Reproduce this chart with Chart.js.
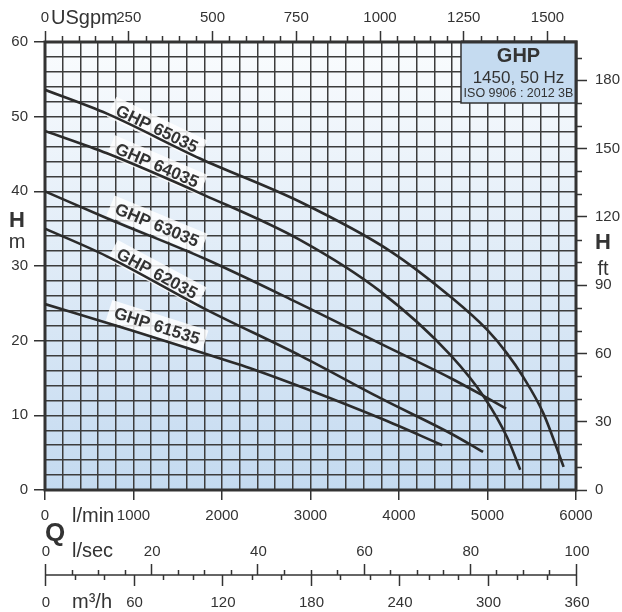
<!DOCTYPE html>
<html><head><meta charset="utf-8">
<script src="https://cdn.jsdelivr.net/npm/chart.js@4/dist/chart.umd.min.js"></script>
<style>html,body{margin:0;padding:0;background:#fff;}canvas{display:block;}</style>
</head><body><canvas id="c" width="622" height="612"></canvas>
<script>
// ---- data (flow in l/min, head in m) ----
const models = ['GHP 65035', 'GHP 64035', 'GHP 63035', 'GHP 62035', 'GHP 61535'];
const q65035 = [0, 700, 1750, 2880, 3900, 4600, 5000, 5220, 5400, 5630, 5860];
const h65035 = [53.6, 50.4, 44.4, 38.6, 32.0, 25.7, 21.4, 18.3, 15.2, 10.3, 3.1];
const q64035 = [0, 700, 1800, 2880, 3800, 4580, 4970, 5220, 5370];
const h64035 = [48.1, 45.1, 39.5, 33.5, 26.5, 18.1, 12.3, 7.1, 2.7];
const q63035 = [0, 700, 1800, 2800, 3790, 4580, 4970, 5210];
const h63035 = [40.0, 36.4, 31.0, 25.4, 19.6, 15.0, 12.5, 10.9];
const q62035 = [0, 700, 1800, 2900, 3790, 4580, 4950];
const h62035 = [35.0, 31.3, 24.3, 17.9, 12.3, 7.6, 5.1];
const q61535 = [0, 1000, 1980, 2320, 3790, 4490];
const h61535 = [24.9, 21.3, 17.6, 16.3, 9.6, 6.0];
// curve label anchors (data units)
const labelFlow = [1266, 1266, 1266, 1266, 1266];
const labelHead = [48.4, 43.5, 35.5, 29.0, 22.0];
// tick labels
const lminLabels = [0, 1000, 2000, 3000, 4000, 5000, 6000];
const usgpmLabels = [0, 250, 500, 750, 1000, 1250, 1500];
const mLabels = [0, 10, 20, 30, 40, 50, 60];
const ftLabels = [0, 30, 60, 90, 120, 150, 180];
const lsecLabels = [0, 20, 40, 60, 80, 100];
const m3hLabels = [0, 60, 120, 180, 240, 300, 360];
const boxTitle = 'GHP';
const boxLine1 = '1450, 50 Hz';
const boxLine2 = 'ISO 9906 : 2012 3B';

const seriesQ = [q65035, q64035, q63035, q62035, q61535];
const seriesH = [h65035, h64035, h63035, h62035, h61535];

const INK = '#333333';
const FONT = "'Liberation Sans', Arial, sans-serif";
const LMIN_PER_USGPM = 3.785411784;
const M_PER_FT = 0.3048;

function isOn(v, list) { return list.some(t => Math.abs(t - v) < 1e-6); }
function interp(qa, ha, q) {
  for (let i = 0; i < qa.length - 1; i++) {
    if (q >= qa[i] && q <= qa[i + 1]) {
      const t = (q - qa[i]) / (qa[i + 1] - qa[i]);
      return ha[i] + t * (ha[i + 1] - ha[i]);
    }
  }
  return ha[ha.length - 1];
}

const datasets = models.map((m, i) => ({
  label: m,
  data: seriesQ[i].map((q, j) => ({ x: q, y: seriesH[i][j] })),
  borderColor: '#2b2b2b',
  borderWidth: 2.6,
  pointRadius: 0,
  fill: false,
  cubicInterpolationMode: 'monotone',
  xAxisID: 'x',
  yAxisID: 'y'
}));

const decor = {
  id: 'decor',
  beforeDraw(chart) {
    const { ctx, chartArea: a } = chart;
    ctx.save();
    ctx.fillStyle = '#ffffff';
    ctx.fillRect(0, 0, chart.width, chart.height);
    const g = ctx.createLinearGradient(0, a.top, 0, a.bottom);
    g.addColorStop(0, '#fafcfe');
    g.addColorStop(1, '#c4daf0');
    ctx.fillStyle = g;
    ctx.fillRect(a.left, a.top, a.right - a.left, a.bottom - a.top);
    ctx.restore();
  },
  beforeDatasetsDraw(chart) {
    const { ctx, chartArea: a, scales } = chart;
    const sx = scales.x, sy = scales.y;
    ctx.save();
    // curve labels
    ctx.font = 'bold 17px ' + FONT;
    models.forEach((m, i) => {
      const q0 = labelFlow[i] - 300, q1 = labelFlow[i] + 300;
      const x0 = sx.getPixelForValue(q0), y0 = sy.getPixelForValue(interp(seriesQ[i], seriesH[i], q0));
      const x1 = sx.getPixelForValue(q1), y1 = sy.getPixelForValue(interp(seriesQ[i], seriesH[i], q1));
      const ang = Math.atan2(y1 - y0, x1 - x0);
      const px = sx.getPixelForValue(labelFlow[i]);
      const py = sy.getPixelForValue(labelHead[i]);
      ctx.save();
      ctx.translate(px, py);
      ctx.rotate(ang);
      const w = ctx.measureText(m).width;
      ctx.fillStyle = 'rgba(255,255,255,0.82)';
      ctx.fillRect(-w / 2 - 6, -11, w + 12, 22);
      ctx.fillStyle = INK;
      ctx.textAlign = 'center';
      ctx.textBaseline = 'middle';
      ctx.fillText(m, 0, 1);
      ctx.restore();
    });
    // frame
    ctx.strokeStyle = INK;
    ctx.lineWidth = 3;
    ctx.strokeRect(a.left, a.top, a.right - a.left, a.bottom - a.top);
    ctx.restore();
  },
  afterDraw(chart) {
    const { ctx, chartArea: a, scales } = chart;
    ctx.save();
    ctx.strokeStyle = INK;
    ctx.fillStyle = INK;
    ctx.lineWidth = 1.5;
    // minor ticks on top (USgpm) axis
    const sTop = scales.x2;
    for (let v = 0; v <= sTop.max; v += 50) {
      if (isOn(v, usgpmLabels)) continue;
      const px = Math.round(sTop.getPixelForValue(v)) + 0.5;
      ctx.beginPath(); ctx.moveTo(px, a.top); ctx.lineTo(px, a.top - 6); ctx.stroke();
    }
    // minor ticks on right (ft) axis
    const sR = scales.y2;
    for (let v = 0; v <= sR.max; v += 10) {
      if (isOn(v, ftLabels)) continue;
      const py = Math.round(sR.getPixelForValue(v)) + 0.5;
      ctx.beginPath(); ctx.moveTo(a.right, py); ctx.lineTo(a.right + 6, py); ctx.stroke();
    }
    // l/sec and m3/h axis
    const sL = scales.x3, sM = scales.x4;
    const axY = 575;
    ctx.beginPath();
    ctx.moveTo(sL.getPixelForValue(0), axY); ctx.lineTo(sL.getPixelForValue(100), axY); ctx.stroke();
    for (let v = 0; v <= 100; v += 5) {
      const px = Math.round(sL.getPixelForValue(v)) + 0.5;
      const len = isOn(v, lsecLabels) ? 11 : 5;
      ctx.beginPath(); ctx.moveTo(px, axY); ctx.lineTo(px, axY - len); ctx.stroke();
    }
    for (let v = 0; v <= 360; v += 20) {
      const px = Math.round(sM.getPixelForValue(v)) + 0.5;
      const len = isOn(v, m3hLabels) ? 11 : 5;
      ctx.beginPath(); ctx.moveTo(px, axY); ctx.lineTo(px, axY + len); ctx.stroke();
    }
    ctx.font = '15px ' + FONT;
    ctx.textAlign = 'center';
    ctx.textBaseline = 'alphabetic';
    lsecLabels.forEach(v => ctx.fillText(String(v), sL.getPixelForValue(v) + 1, 556));
    m3hLabels.forEach(v => ctx.fillText(String(v), sM.getPixelForValue(v) + 1, 607));
    // unit labels
    ctx.font = '20px ' + FONT;
    ctx.textAlign = 'left';
    ctx.fillText('USgpm', a.left + 6, 24);
    ctx.fillText('l/min', a.left + 27, 522);
    ctx.fillText('l/sec', a.left + 27, 557);
    ctx.fillText('m\u00B3/h', a.left + 27, 608);
    ctx.textAlign = 'center';
    ctx.fillText('m', 17, 248);
    ctx.fillText('ft', 603, 275);
    ctx.font = 'bold 22px ' + FONT;
    ctx.fillText('H', 17, 227);
    ctx.fillText('H', 603, 249);
    ctx.font = 'bold 26px ' + FONT;
    ctx.textAlign = 'left';
    ctx.fillText('Q', a.left, 541);
    // info box
    const bw = 115, bh = 61;
    const bx = a.right - bw, by = a.top;
    ctx.fillStyle = '#c5dbf0';
    ctx.fillRect(bx, by, bw, bh);
    ctx.lineWidth = 1.5;
    ctx.strokeRect(bx, by, bw, bh);
    ctx.lineWidth = 3;
    ctx.beginPath(); ctx.moveTo(bx, by); ctx.lineTo(a.right, by); ctx.lineTo(a.right, by + bh); ctx.stroke();
    ctx.fillStyle = INK;
    ctx.textAlign = 'center';
    const cx = bx + bw / 2;
    ctx.font = 'bold 20px ' + FONT;
    ctx.fillText(boxTitle, cx, by + 20);
    ctx.font = '17px ' + FONT;
    ctx.fillText(boxLine1, cx, by + 41);
    ctx.font = '12.5px ' + FONT;
    ctx.fillText(boxLine2, cx, by + 55);
    ctx.restore();
  }
};

const tickFont = { family: FONT, size: 15 };
new Chart(document.getElementById('c'), {
  type: 'line',
  data: { datasets },
  options: {
    responsive: false,
    animation: false,
    events: [],
    layout: { padding: 0 },
    plugins: { legend: { display: false }, tooltip: { enabled: false } },
    scales: {
      x: {
        type: 'linear', position: 'bottom', min: 0, max: 6000,
        afterFit: s => { s.height = 122; },
        ticks: {
          stepSize: 200, maxTicksLimit: 100, autoSkip: false, maxRotation: 0, minRotation: 0,
          font: tickFont, color: INK, padding: 7,
          callback: v => isOn(v, lminLabels) ? String(v) : ''
        },
        grid: {
          color: '#3c3c3c', lineWidth: 1.5, tickLength: 10, tickWidth: 1.5,
          tickColor: c => (c.tick && isOn(c.tick.value, lminLabels)) ? INK : 'rgba(0,0,0,0)'
        },
        border: { display: false }
      },
      x2: {
        type: 'linear', position: 'top', min: 0, max: 6000 / LMIN_PER_USGPM,
        afterFit: s => { s.height = 42; },
        ticks: {
          stepSize: 50, maxTicksLimit: 100, includeBounds: false, autoSkip: false, maxRotation: 0, minRotation: 0,
          font: tickFont, color: INK, padding: 4,
          callback: v => isOn(v, usgpmLabels) ? String(v) : ''
        },
        grid: {
          drawOnChartArea: false, tickLength: 11, tickWidth: 1.5,
          tickColor: c => (c.tick && isOn(c.tick.value, usgpmLabels)) ? INK : 'rgba(0,0,0,0)'
        },
        border: { display: false }
      },
      x3: { type: 'linear', position: 'bottom', min: 0, max: 100, display: false },
      x4: { type: 'linear', position: 'bottom', min: 0, max: 360, display: false },
      y: {
        type: 'linear', position: 'left', min: 0, max: 60,
        afterFit: s => { s.width = 45; },
        ticks: {
          stepSize: 2, maxTicksLimit: 100, autoSkip: false,
          font: tickFont, color: INK, padding: 6,
          callback: v => isOn(v, mLabels) ? String(v) : ''
        },
        grid: {
          color: '#3c3c3c', lineWidth: 1.5, tickLength: 11, tickWidth: 1.5,
          tickColor: c => (c.tick && isOn(c.tick.value, mLabels)) ? INK : 'rgba(0,0,0,0)'
        },
        border: { display: false }
      },
      y2: {
        type: 'linear', position: 'right', min: 0, max: 60 / M_PER_FT,
        afterFit: s => { s.width = 46; },
        ticks: {
          stepSize: 10, maxTicksLimit: 100, includeBounds: false, autoSkip: false,
          font: tickFont, color: INK, padding: 8,
          callback: v => isOn(v, ftLabels) ? String(v) : ''
        },
        grid: {
          drawOnChartArea: false, tickLength: 11, tickWidth: 1.5,
          tickColor: c => (c.tick && isOn(c.tick.value, ftLabels)) ? INK : 'rgba(0,0,0,0)'
        },
        border: { display: false }
      }
    }
  },
  plugins: [decor]
});
</script>
</body></html>
